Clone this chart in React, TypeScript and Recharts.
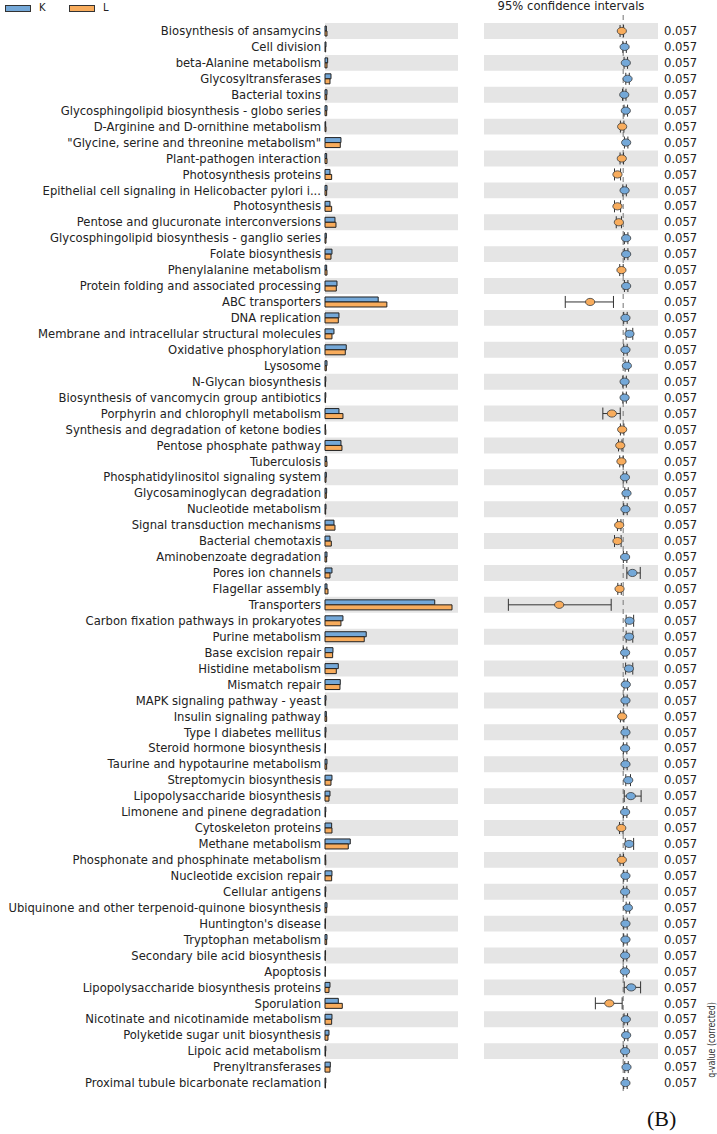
import React from 'react'
import {
  BarChart,
  Bar,
  ComposedChart,
  Line,
  ErrorBar,
  XAxis,
  YAxis,
  ReferenceArea,
  ReferenceLine,
} from 'recharts'

const categories = [
  'Biosynthesis of ansamycins',
  'Cell division',
  'beta-Alanine metabolism',
  'Glycosyltransferases',
  'Bacterial toxins',
  'Glycosphingolipid biosynthesis - globo series',
  'D-Arginine and D-ornithine metabolism',
  '"Glycine, serine and threonine metabolism"',
  'Plant-pathogen interaction',
  'Photosynthesis proteins',
  'Epithelial cell signaling in Helicobacter pylori i...',
  'Photosynthesis',
  'Pentose and glucuronate interconversions',
  'Glycosphingolipid biosynthesis - ganglio series',
  'Folate biosynthesis',
  'Phenylalanine metabolism',
  'Protein folding and associated processing',
  'ABC transporters',
  'DNA replication',
  'Membrane and intracellular structural molecules',
  'Oxidative phosphorylation',
  'Lysosome',
  'N-Glycan biosynthesis',
  'Biosynthesis of vancomycin group antibiotics',
  'Porphyrin and chlorophyll metabolism',
  'Synthesis and degradation of ketone bodies',
  'Pentose phosphate pathway',
  'Tuberculosis',
  'Phosphatidylinositol signaling system',
  'Glycosaminoglycan degradation',
  'Nucleotide metabolism',
  'Signal transduction mechanisms',
  'Bacterial chemotaxis',
  'Aminobenzoate degradation',
  'Pores ion channels',
  'Flagellar assembly',
  'Transporters',
  'Carbon fixation pathways in prokaryotes',
  'Purine metabolism',
  'Base excision repair',
  'Histidine metabolism',
  'Mismatch repair',
  'MAPK signaling pathway - yeast',
  'Insulin signaling pathway',
  'Type I diabetes mellitus',
  'Steroid hormone biosynthesis',
  'Taurine and hypotaurine metabolism',
  'Streptomycin biosynthesis',
  'Lipopolysaccharide biosynthesis',
  'Limonene and pinene degradation',
  'Cytoskeleton proteins',
  'Methane metabolism',
  'Phosphonate and phosphinate metabolism',
  'Nucleotide excision repair',
  'Cellular antigens',
  'Ubiquinone and other terpenoid-quinone biosynthesis',
  "Huntington's disease",
  'Tryptophan metabolism',
  'Secondary bile acid biosynthesis',
  'Apoptosis',
  'Lipopolysaccharide biosynthesis proteins',
  'Sporulation',
  'Nicotinate and nicotinamide metabolism',
  'Polyketide sugar unit biosynthesis',
  'Lipoic acid metabolism',
  'Prenyltransferases',
  'Proximal tubule bicarbonate reclamation',
]

// mean proportions (%)
const kValues = [
  0.2, 0.15, 0.4, 0.9, 0.3, 0.3, 0.1, 2.4, 0.25, 0.75,
  0.3, 0.75, 1.5, 0.2, 1.05, 0.25, 1.8, 8.0, 2.1, 1.35,
  3.2, 0.3, 0.12, 0.12, 2.1, 0.08, 2.4, 0.25, 0.2, 0.25,
  0.15, 1.35, 0.75, 0.3, 1.05, 0.3, 16.5, 2.7, 6.2, 1.2,
  2.0, 2.3, 0.15, 0.2, 0.15, 0.08, 0.3, 1.05, 0.75, 0.12,
  1.0, 3.8, 0.1, 1.05, 0.12, 0.3, 0.08, 0.3, 0.08, 0.08,
  0.75, 2.0, 1.05, 0.6, 0.12, 0.8, 0.12,
]
const lValues = [
  0.3, 0.1, 0.3, 0.75, 0.25, 0.25, 0.15, 2.3, 0.3, 1.0,
  0.25, 1.0, 1.65, 0.15, 0.9, 0.3, 1.7, 9.3, 2.0, 1.05,
  3.05, 0.2, 0.08, 0.08, 2.7, 0.12, 2.55, 0.3, 0.15, 0.2,
  0.1, 1.5, 0.95, 0.25, 0.75, 0.45, 19.1, 2.4, 5.9, 1.15,
  1.7, 2.25, 0.1, 0.25, 0.1, 0.05, 0.25, 0.9, 0.6, 0.08,
  1.05, 3.5, 0.12, 1.0, 0.08, 0.25, 0.05, 0.25, 0.05, 0.05,
  0.6, 2.6, 1.0, 0.45, 0.08, 0.75, 0.08,
]

// difference in mean proportions with 95% CI
const diffValues = [
  -0.08, 0.08, 0.15, 0.25, 0.06, 0.15, -0.06, 0.17, -0.08, -0.33,
  0.08, -0.33, -0.25, 0.17, 0.17, -0.1, 0.17, -1.9, 0.13, 0.36,
  0.13, 0.21, 0.08, 0.08, -0.65, -0.06, -0.17, -0.1, 0.1, 0.19,
  0.13, -0.23, -0.33, 0.11, 0.53, -0.21, -3.68, 0.36, 0.34, 0.11,
  0.33, 0.15, 0.13, -0.06, 0.13, 0.11, 0.13, 0.29, 0.44, 0.11,
  -0.11, 0.34, -0.08, 0.13, 0.11, 0.27, 0.13, 0.13, 0.11, 0.1,
  0.46, -0.8, 0.15, 0.17, 0.11, 0.19, 0.13,
]
const ciLower = [
  -0.18, -0.02, 0.05, 0.15, -0.04, 0.05, -0.16, 0.07, -0.18, -0.5,
  -0.02, -0.5, -0.4, 0.07, 0.07, -0.2, 0.07, -3.33, 0.03, 0.17,
  0.03, 0.11, -0.02, -0.02, -1.17, -0.16, -0.27, -0.2, 0.0, 0.09,
  0.03, -0.33, -0.5, 0.01, 0.21, -0.31, -6.6, 0.17, 0.17, 0.01,
  0.14, 0.05, 0.03, -0.16, 0.03, 0.01, 0.03, 0.15, 0.06, 0.01,
  -0.21, 0.12, -0.18, 0.03, 0.01, 0.17, 0.03, 0.03, 0.01, 0.0,
  0.06, -1.6, 0.05, 0.07, 0.01, 0.09, 0.03,
]
const ciUpper = [
  0.02, 0.18, 0.25, 0.35, 0.16, 0.25, 0.04, 0.27, 0.02, -0.15,
  0.18, -0.15, -0.1, 0.27, 0.27, 0.0, 0.27, -0.56, 0.23, 0.55,
  0.23, 0.31, 0.18, 0.18, -0.17, 0.04, -0.07, 0.0, 0.2, 0.29,
  0.23, -0.13, -0.12, 0.21, 0.98, -0.11, -0.69, 0.6, 0.55, 0.21,
  0.55, 0.25, 0.23, 0.04, 0.23, 0.21, 0.23, 0.42, 1.03, 0.21,
  -0.01, 0.6, 0.02, 0.23, 0.21, 0.37, 0.23, 0.23, 0.21, 0.2,
  1.0, -0.06, 0.25, 0.27, 0.21, 0.29, 0.23,
]
const qValues = categories.map(() => '0.057')

const BLUE = '#74a8d8'
const ORANGE = '#f8ac5c'
const STRIPE = '#e5e5e5'
const FONT = '"DejaVu Sans", sans-serif'
const FS = 11.6

const rows = categories.map((name, i) => ({
  name,
  K: kValues[i],
  L: lValues[i],
  diff: diffValues[i],
  err: [diffValues[i] - ciLower[i], ciUpper[i] - diffValues[i]],
}))

const striped = categories.filter((_, i) => i % 2 === 0)

function NameTick(props: any) {
  const { x, y, payload } = props
  return (
    <text x={x} y={y} dy="0.36em" textAnchor="end" fontSize={FS} fill="#222" fontFamily={FONT}>
      {payload.value}
    </text>
  )
}

function QTick(props: any) {
  const { x, y, payload } = props
  return (
    <text x={x} y={y} dy="0.36em" textAnchor="start" fontSize={FS} fill="#222" fontFamily={FONT}>
      {qValues[payload.index]}
    </text>
  )
}

function CiDot(props: any) {
  const { cx, cy, payload } = props
  if (cx == null || cy == null) return null
  return (
    <ellipse
      key={payload.name}
      cx={cx}
      cy={cy}
      rx={4.6}
      ry={3.6}
      fill={payload.diff >= 0 ? BLUE : ORANGE}
      stroke="#3a3a3a"
      strokeWidth={0.8}
    />
  )
}

export default function App() {
  return (
    <div
      style={{
        position: 'absolute',
        top: 0,
        left: 0,
        width: 717,
        height: 1134,
        background: '#fff',
        fontFamily: FONT,
        color: '#222',
      }}
    >
      {/* legend */}
      <div style={{ position: 'absolute', left: 5, top: 5, width: 24, height: 5, background: BLUE, border: '1px solid #333' }} />
      <div style={{ position: 'absolute', left: 39, top: 2, fontSize: 10 }}>K</div>
      <div style={{ position: 'absolute', left: 69, top: 5, width: 24, height: 5, background: ORANGE, border: '1px solid #333' }} />
      <div style={{ position: 'absolute', left: 103, top: 2, fontSize: 10 }}>L</div>

      <div style={{ position: 'absolute', left: 484, top: -1, width: 174, textAlign: 'center', fontSize: FS }}>
        95% confidence intervals
      </div>

      <div style={{ position: 'absolute', left: 0, top: 0 }}>
        <BarChart
          width={460}
          height={1100}
          data={rows}
          layout="vertical"
          margin={{ top: 23, right: 2, bottom: 9, left: 0 }}
          barSize={5}
          barGap={0}
        >
          <XAxis type="number" domain={[0, 20]} hide />
          <YAxis
            type="category"
            dataKey="name"
            width={325}
            interval={0}
            tickLine={false}
            axisLine={false}
            tickSize={0}
            tickMargin={4}
            tick={<NameTick />}
          />
          {striped.map((c) => (
            <ReferenceArea key={c} y1={c} y2={c} fill={STRIPE} fillOpacity={1} stroke="none" />
          ))}
          <Bar dataKey="K" fill={BLUE} stroke="#222" strokeWidth={1} isAnimationActive={false} />
          <Bar dataKey="L" fill={ORANGE} stroke="#222" strokeWidth={1} isAnimationActive={false} />
        </BarChart>
      </div>

      <div style={{ position: 'absolute', left: 460, top: 0 }}>
        <ComposedChart
          width={257}
          height={1100}
          data={rows}
          layout="vertical"
          margin={{ top: 12, right: 0, bottom: 9, left: 24 }}
        >
          <XAxis type="number" domain={[-8, 2]} hide />
          <YAxis
            type="category"
            dataKey="name"
            scale="band"
            orientation="right"
            width={59}
            interval={0}
            padding={{ top: 11, bottom: 0 }}
            tickLine={false}
            axisLine={false}
            tickSize={0}
            tickMargin={6}
            tick={<QTick />}
          />
          {striped.map((c) => (
            <ReferenceArea key={c} y1={c} y2={c} fill={STRIPE} fillOpacity={1} stroke="none" />
          ))}
          <ReferenceLine x={0} stroke="#8a8a8a" strokeWidth={1.2} strokeDasharray="5 4" />
          <Line
            dataKey="diff"
            stroke="none"
            dot={<CiDot />}
            activeDot={false}
            isAnimationActive={false}
          >
            <ErrorBar dataKey="err" direction="x" width={6} stroke="#333" strokeWidth={1} />
          </Line>
        </ComposedChart>
      </div>

      <div
        style={{
          position: 'absolute',
          left: 711,
          top: 1040,
          fontSize: 11,
          color: '#333',
          whiteSpace: 'nowrap',
          transform: 'translate(-50%, -50%) rotate(-90deg) scaleX(0.72)',
        }}
      >
        q-value (corrected)
      </div>

      <div
        style={{
          position: 'absolute',
          left: 647,
          top: 1106,
          fontSize: 22,
          fontFamily: '"Liberation Serif", serif',
          color: '#111',
        }}
      >
        (B)
      </div>
    </div>
  )
}
